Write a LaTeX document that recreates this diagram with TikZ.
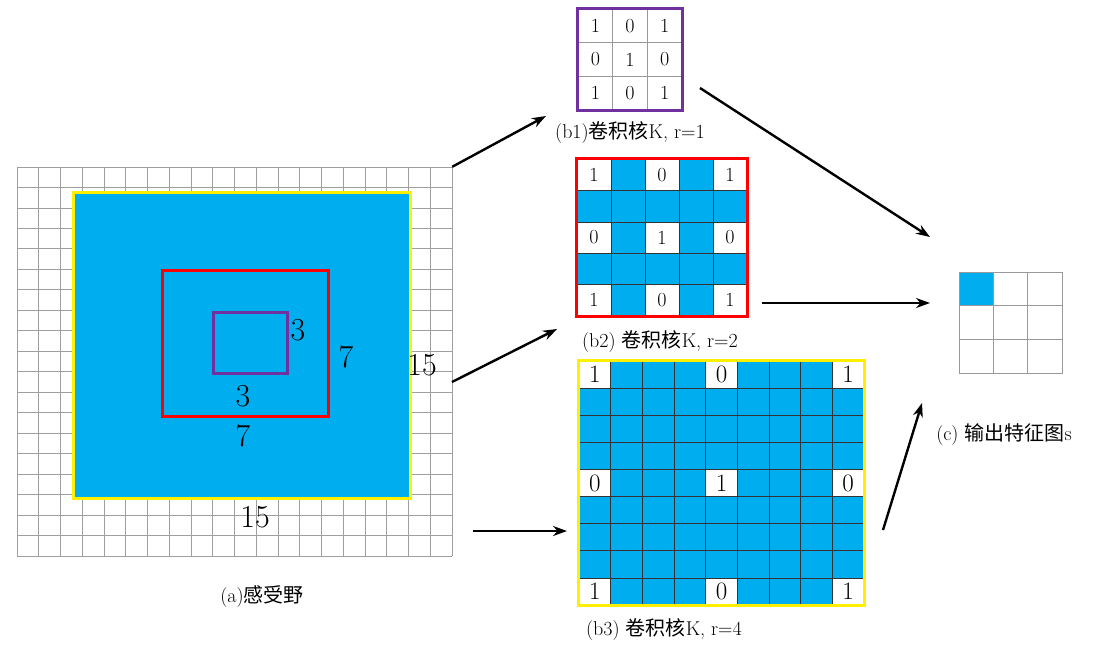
\documentclass[tikz,border=0pt]{standalone}
\usepackage{fontspec}
\newfontfamily\cjk{Noto Sans CJK SC}
\usepackage{xcolor}
\usepackage{tikz}
\usetikzlibrary{arrows.meta, positioning}

\definecolor{fieldblue}{RGB}{0,174,239}
\definecolor{kpurple}{RGB}{112,48,160}
\definecolor{kyellow}{RGB}{255,240,0}

\begin{document}
\begin{tikzpicture}[
    x=1pt, y=-1pt,
    gridline/.style={draw=gray!75, line width=0.8pt},
    region/.style={draw, rectangle, line width=3pt, inner sep=0pt},
    sizelab/.style={font=\fontsize{32}{32}\selectfont, inner sep=0pt},
    kcell/.style={draw=black!80, rectangle, line width=0.6pt, inner sep=0pt, fill=white, font=\fontsize{20}{20}\selectfont},
    bigcell/.style={kcell, minimum width=31.67pt, minimum height=27.1pt, font=\fontsize{25}{25}\selectfont},
    caption/.style={font=\fontsize{20}{20}\selectfont, inner sep=0pt},
    arrow/.style={line width=2.4pt, -{Stealth[length=14pt, width=10pt]}}
]
\useasboundingbox (0,0) rectangle (1096,646);

% (a) receptive field
\node[inner sep=0pt, minimum width=435pt, minimum height=389pt] (field) at (234.5,361.5) {};
\foreach \i in {0,...,20}
  \draw[gridline] ({17+\i*21.75},167) -- ({17+\i*21.75},556);
\foreach \j in {0,...,19}
  \draw[gridline] (17,{167+\j*20.47}) -- (452,{167+\j*20.47});

\node[region, draw=kyellow, fill=fieldblue, minimum width=337pt, minimum height=306pt] (rf15) at (241.5,345) {};
\node[region, draw=red, minimum width=166pt, minimum height=146pt] (rf7) at (245,343) {};
\node[region, draw=kpurple, minimum width=74pt, minimum height=61pt] (rf3) at (250,342.5) {};

\node[sizelab] (w3) at (298,330) {3};
\node[sizelab] (h3) at (243,396) {3};
\node[sizelab] (w7) at (346,357) {7};
\node[sizelab] (h7) at (243,436) {7};
\node[sizelab] (w15) at (422,365) {15};
\node[sizelab] (h15) at (255,517) {15};

\node[caption] (capa) at (262,597) {(a){\cjk 感受野}};

% (b1) kernel r=1
\foreach \r in {0,1,2}
  \foreach \c in {0,1,2} {
    \pgfmathtruncatemacro\v{mod(\r+\c+1,2)}
    \node[kcell, draw=gray!80, minimum width=34.67pt, minimum height=33.67pt] (k1-\r-\c)
      at ({578+34.67*(\c+0.5)},{9+33.67*(\r+0.5)}) {\v};
  }
\draw[kpurple, line width=3pt] (k1-0-0.north west) rectangle (k1-2-2.south east);
\node[caption] (capb1) at (630,133) {(b1){\cjk 卷积核}K, r=1};

% (b2) kernel r=2
\foreach \r in {0,...,4}
  \foreach \c in {0,...,4} {
    \pgfmathtruncatemacro\w{(mod(\r,2)==0)*(mod(\c,2)==0)}
    \pgfmathtruncatemacro\v{mod(\r/2+\c/2+1,2)}
    \ifnum\w=1
      \node[kcell, minimum width=34pt, minimum height=31.4pt] (k2-\r-\c)
        at ({577+34*(\c+0.5)},{159+31.4*(\r+0.5)}) {\v};
    \else
      \node[kcell, fill=fieldblue, minimum width=34pt, minimum height=31.4pt] (k2-\r-\c)
        at ({577+34*(\c+0.5)},{159+31.4*(\r+0.5)}) {};
    \fi
  }
\draw[red, line width=3pt] (k2-0-0.north west) rectangle (k2-4-4.south east);
\node[caption] (capb2) at (660,342) {(b2)\ {\cjk 卷积核}K, r=2};

% (b3) kernel r=4
\foreach \r in {0,...,8}
  \foreach \c in {0,...,8} {
    \pgfmathtruncatemacro\w{(mod(\r,4)==0)*(mod(\c,4)==0)}
    \pgfmathtruncatemacro\v{mod(\r/4+\c/4+1,2)}
    \ifnum\w=1
      \node[bigcell] (k3-\r-\c) at ({579+31.67*(\c+0.5)},{361+27.1*(\r+0.5)}) {\v};
    \else
      \node[bigcell, fill=fieldblue] (k3-\r-\c) at ({579+31.67*(\c+0.5)},{361+27.1*(\r+0.5)}) {};
    \fi
  }
\draw[kyellow, line width=3pt] (k3-0-0.north west) rectangle (k3-8-8.south east);
\node[caption] (capb3) at (664,630) {(b3)\ {\cjk 卷积核}K, r=4};

% (c) output feature map
\foreach \r in {0,1,2}
  \foreach \c in {0,1,2}
    \node[kcell, draw=gray!80, minimum width=34.33pt, minimum height=33.67pt] (out-\r-\c)
      at ({959+34.33*(\c+0.5)},{272+33.67*(\r+0.5)}) {};
\node[kcell, draw=gray!80, fill=fieldblue, minimum width=34.33pt, minimum height=33.67pt] at (out-0-0) {};
\node[caption] (capc) at (1004,435) {(c)\ {\cjk 输出特征图}s};

% arrow ends
\coordinate (t1) at (546,116);
\coordinate (s2) at (452,382);
\coordinate (t2) at (557,329);
\coordinate (s3) at (473,531);
\coordinate (t3) at (567,531);
\coordinate (s4) at (700,88);
\coordinate (t4) at (930,237);
\coordinate (s5) at (762,303);
\coordinate (t5) at (930,303);
\coordinate (s6) at (883,530);
\coordinate (t6) at (922,403);

\draw[arrow] (field.north east) -- (t1);
\draw[arrow] (s2) -- (t2);
\draw[arrow] (s3) -- (t3);
\draw[arrow] (s4) -- (t4);
\draw[arrow] (s5) -- (t5);
\draw[arrow] (s6) -- (t6);
\end{tikzpicture}
\end{document}
